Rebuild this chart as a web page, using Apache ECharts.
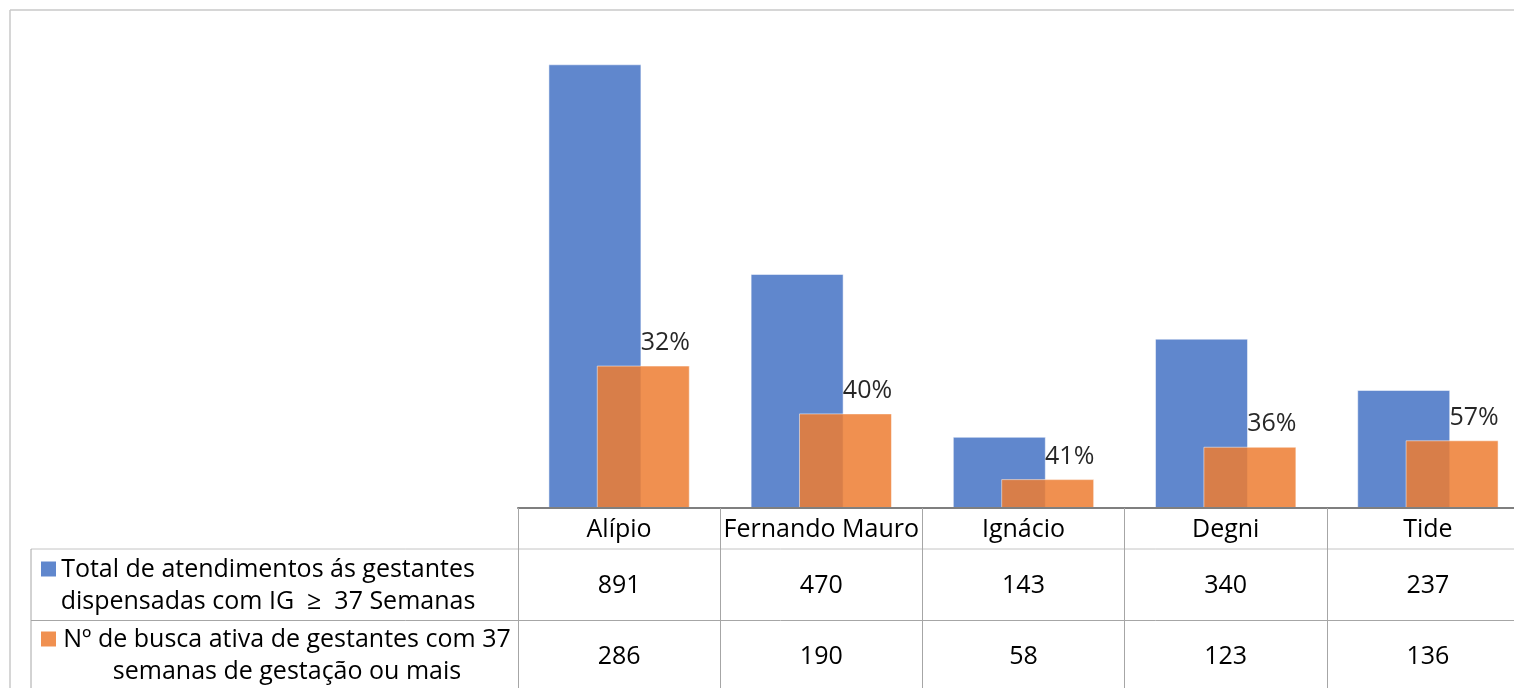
<!DOCTYPE html>
<html>
<head>
<meta charset="utf-8">
<script src="https://cdn.jsdelivr.net/npm/echarts@6/dist/echarts.min.js"></script>
<style>
html,body{margin:0;padding:0;background:#fff;overflow:hidden;width:1514px;height:688px;}
#chart{width:1530px;height:688px;}
</style>
</head>
<body>
<div id="chart"></div>
<script>
var categories = ['Alípio', 'Fernando Mauro', 'Ignácio', 'Degni', 'Tide'];
var totalAtend = [891, 470, 143, 340, 237];
var buscaAtiva = [286, 190, 58, 123, 136];
var pctLabels = ['32%', '40%', '41%', '36%', '57%'];
var seriesNames = [
  'Total de atendimentos ás gestantes\ndispensadas com IG  \u2265  37 Semanas',
  'N\u00ba de busca ativa de gestantes com 37\nsemanas de gestação ou mais'
];

var FONT = '"Open Sans", "Noto Sans", sans-serif';
var FS = 25;
var BLUE = '#4472C4';
var ORANGE = '#ED7D31';

var chart = echarts.init(document.getElementById('chart'), null, {renderer: 'canvas'});

function valueAxis(offset, values) {
  return {
    type: 'category',
    data: categories,
    position: 'bottom',
    offset: offset,
    axisLine: {show: false},
    axisTick: {show: false},
    axisLabel: {
      interval: 0,
      margin: 0,
      color: '#000',
      fontFamily: FONT,
      fontSize: FS,
      lineHeight: 24,
      formatter: function (v, i) { return String(values[i]); }
    }
  };
}

var option = {
  animation: false,
  backgroundColor: '#fff',
  grid: {left: 518, top: 10, right: 1, bottom: 180, containLabel: false},
  xAxis: [
    {
      type: 'category',
      data: categories,
      position: 'bottom',
      axisLine: {show: true, lineStyle: {color: '#7f7f7f', width: 2}},
      axisTick: {show: true, interval: 0, length: 180, lineStyle: {color: '#a6a6a6', width: 1}},
      axisLabel: {interval: 0, margin: 10, color: '#000', fontFamily: FONT, fontSize: FS, lineHeight: 24},
      z: 5
    },
    valueAxis(66, totalAtend),
    valueAxis(137, buscaAtiva)
  ],
  yAxis: {type: 'value', min: 0, max: 1000, show: false, splitLine: {show: false}},
  series: [
    {
      name: seriesNames[0],
      type: 'bar',
      xAxisIndex: 0,
      data: totalAtend,
      barWidth: 93,
      barGap: '-48%',
      itemStyle: {color: BLUE, opacity: 0.85, borderColor: 'rgba(255,255,255,0.6)', borderWidth: 1}
    },
    {
      name: seriesNames[1],
      type: 'bar',
      xAxisIndex: 0,
      data: buscaAtiva,
      barWidth: 93,
      barGap: '-48%',
      itemStyle: {color: ORANGE, opacity: 0.85, borderColor: 'rgba(255,255,255,0.6)', borderWidth: 1},
      label: {
        show: true,
        position: 'top',
        distance: 5,
        offset: [22, -5],
        color: '#000',
        fontFamily: FONT,
        fontSize: FS,
        formatter: function (p) { return pctLabels[p.dataIndex]; }
      }
    }
  ],
  graphic: [
    {type: 'line', shape: {x1: 10, y1: 10, x2: 1530, y2: 10}, style: {stroke: '#c8c8c8', lineWidth: 1.5}, silent: true},
    {type: 'line', shape: {x1: 10, y1: 10, x2: 10, y2: 688}, style: {stroke: '#c8c8c8', lineWidth: 1.5}, silent: true},
    {type: 'line', shape: {x1: 31, y1: 549, x2: 1530, y2: 549}, style: {stroke: '#c4c4c4', lineWidth: 1}, silent: true},
    {type: 'line', shape: {x1: 31, y1: 620.5, x2: 1530, y2: 620.5}, style: {stroke: '#a6a6a6', lineWidth: 1}, silent: true},
    {type: 'line', shape: {x1: 31, y1: 549, x2: 31, y2: 688}, style: {stroke: '#a6a6a6', lineWidth: 1}, silent: true},
    {type: 'rect', shape: {x: 41, y: 561.5, width: 15, height: 15}, style: {fill: BLUE, opacity: 0.85}, silent: true},
    {type: 'rect', shape: {x: 41, y: 631.5, width: 15, height: 15}, style: {fill: ORANGE, opacity: 0.85}, silent: true},
    {type: 'text', x: 268, y: 586, silent: true,
     style: {text: seriesNames[0], align: 'center', verticalAlign: 'middle', fill: '#000', font: FS + 'px ' + FONT, lineHeight: 32}},
    {type: 'text', x: 287, y: 656, silent: true,
     style: {text: seriesNames[1], align: 'center', verticalAlign: 'middle', fill: '#000', font: FS + 'px ' + FONT, lineHeight: 32}}
  ]
};
chart.setOption(option);
</script>
</body>
</html>
